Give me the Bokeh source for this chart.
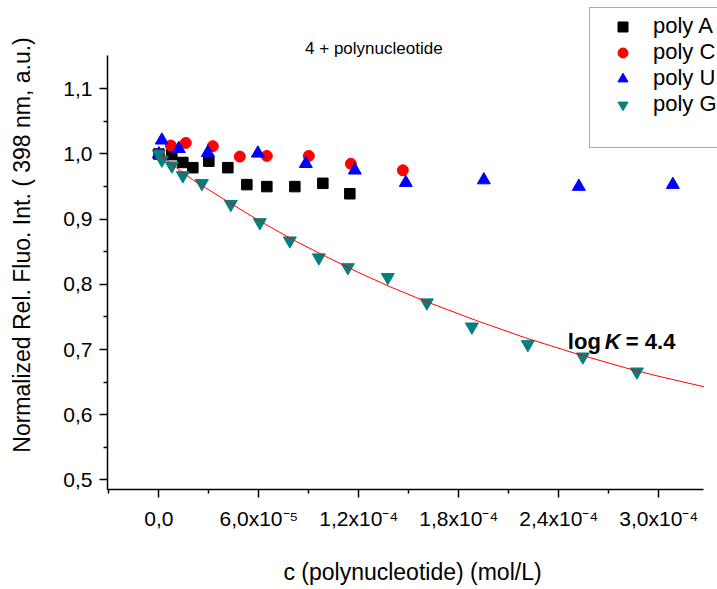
from bokeh.plotting import figure
from bokeh.models import (Range1d, FixedTicker, CustomJSTickFormatter, Legend,
                          LegendItem, Label)
from bokeh.embed import file_html
from bokeh.resources import INLINE

# ---------------- data ----------------
polyA_x = [0.0, 0.78e-5, 1.44e-5, 2.04e-5, 3.0e-5, 4.14e-5, 5.28e-5, 6.48e-5, 8.16e-5, 9.84e-5, 1.146e-4]
polyA_y = [1.000, 0.999, 0.987, 0.979, 0.989, 0.979, 0.953, 0.950, 0.950, 0.955, 0.939]

polyC_x = [0.0, 0.72e-5, 1.62e-5, 3.24e-5, 4.86e-5, 6.48e-5, 9.0e-5, 1.152e-4, 1.464e-4]
polyC_y = [1.000, 1.013, 1.017, 1.012, 0.996, 0.997, 0.997, 0.985, 0.975]

polyU_x = [0.0, 0.18e-5, 1.2e-5, 2.94e-5, 5.94e-5, 8.82e-5, 1.176e-4, 1.482e-4, 1.95e-4, 2.52e-4, 3.084e-4]
polyU_y = [1.000, 1.021, 1.008, 1.002, 1.001, 0.985, 0.975, 0.956, 0.960, 0.950, 0.953]

polyG_x = [0.0, 0.18e-5, 0.78e-5, 1.44e-5, 2.58e-5, 4.32e-5, 6.06e-5, 7.86e-5, 9.6e-5,
           1.134e-4, 1.374e-4, 1.608e-4, 1.878e-4, 2.214e-4, 2.544e-4, 2.868e-4]
polyG_y = [1.000, 0.991, 0.982, 0.967, 0.955, 0.923, 0.895, 0.867, 0.841,
           0.826, 0.811, 0.772, 0.735, 0.708, 0.689, 0.666]

fit_x = [0.0, 1e-5, 2e-5, 4e-5, 6e-5, 8e-5, 1.0e-4, 1.2e-4, 1.4e-4, 1.6e-4,
         1.9e-4, 2.2e-4, 2.5e-4, 2.8e-4, 3.0e-4, 3.27e-4]
fit_y = [1.000, 0.980, 0.961, 0.929, 0.898, 0.869, 0.843, 0.818, 0.795, 0.774,
         0.745, 0.718, 0.694, 0.672, 0.659, 0.643]

x_ticks = [0.0, 6e-5, 1.2e-4, 1.8e-4, 2.4e-4, 3.0e-4]
x_tick_labels = ["0,0", "6,0x10\u207b\u2075", "1,2x10\u207b\u2074", "1,8x10\u207b\u2074",
                 "2,4x10\u207b\u2074", "3,0x10\u207b\u2074"]
x_minor = [-3e-5, 3e-5, 9e-5, 1.5e-4, 2.1e-4, 2.7e-4]
x_axis_span = (-3.08e-5, 3.27e-4)

y_ticks = [0.5, 0.6, 0.7, 0.8, 0.9, 1.0, 1.1]
y_tick_labels = ["0,5", "0,6", "0,7", "0,8", "0,9", "1,0", "1,1"]
y_minor = [0.55, 0.65, 0.75, 0.85, 0.95, 1.05]
y_axis_span = (0.4854, 1.151)

series_labels = ["poly A", "poly C", "poly U", "poly G"]
title_text = "4 + polynucleotide"
x_label = "c (polynucleotide) (mol/L)"
y_label = "Normalized Rel. Fluo. Int. ( 398 nm, a.u.)"

FONT = "Liberation Sans"

# frame spans to the top and right edges of the page so the title and the
# legend (which sit outside the axes) are not clipped; axes use bounds
p = figure(width=717, height=589, output_backend="svg", toolbar_location=None,
           x_range=Range1d(-3.08e-5, 3.352e-4), y_range=Range1d(0.4854, 1.2354),
           min_border_left=107, min_border_right=0, min_border_top=0,
           min_border_bottom=100)
p.outline_line_color = None
p.xgrid.visible = False
p.ygrid.visible = False
p.background_fill_color = "white"
p.border_fill_color = "white"

fmt_code = """
let best = 0;
for (let i = 0; i < tvals.length; i++) {
  if (Math.abs(tvals[i] - tick) < Math.abs(tvals[best] - tick)) best = i;
}
return tlabels[best];
"""

xa = p.xaxis[0]
xa.ticker = FixedTicker(ticks=x_ticks, minor_ticks=x_minor)
xa.formatter = CustomJSTickFormatter(args=dict(tvals=x_ticks, tlabels=x_tick_labels), code=fmt_code)
xa.bounds = x_axis_span
ya = p.yaxis[0]
ya.ticker = FixedTicker(ticks=y_ticks, minor_ticks=y_minor)
ya.formatter = CustomJSTickFormatter(args=dict(tvals=y_ticks, tlabels=y_tick_labels), code=fmt_code)
ya.bounds = y_axis_span

for ax in (xa, ya):
    ax.axis_line_color = "black"
    ax.axis_line_width = 1.5
    ax.major_tick_line_color = "black"
    ax.major_tick_line_width = 1.5
    ax.minor_tick_line_color = "black"
    ax.minor_tick_line_width = 1.5
    ax.major_tick_in = 0
    ax.major_tick_out = 8
    ax.minor_tick_in = 0
    ax.minor_tick_out = 4
    ax.major_label_text_font = FONT
    ax.major_label_text_font_size = "21px"
    ax.major_label_text_color = "black"
    ax.axis_label_text_font = FONT
    ax.axis_label_text_font_size = "23px"
    ax.axis_label_text_font_style = "normal"
    ax.axis_label_text_color = "black"

xa.axis_label = x_label
xa.major_label_standoff = 9
xa.axis_label_standoff = 26
ya.axis_label = y_label
ya.major_label_standoff = 7
ya.axis_label_standoff = 25

rA = p.scatter(polyA_x, polyA_y, marker="square", size=10.5, fill_color="black", line_color="black")
rC = p.scatter(polyC_x, polyC_y, marker="circle", size=11, fill_color="#FF0000", line_color="#FF0000")
rU = p.scatter(polyU_x, polyU_y, marker="triangle", size=13, fill_color="#0000FF", line_color="#0000FF")
rG = p.scatter(polyG_x, polyG_y, marker="inverted_triangle", size=13, fill_color="#008080", line_color="#008080")
p.line(fit_x, fit_y, line_color="#FF0000", line_width=1)

# invisible spacer entry for the legend box height
rDummy = p.scatter([], [], marker="square", size=1, fill_alpha=0, line_alpha=0)

legend = Legend(items=[LegendItem(label=series_labels[0], renderers=[rA]),
                       LegendItem(label=series_labels[1], renderers=[rC]),
                       LegendItem(label=series_labels[2], renderers=[rU]),
                       LegendItem(label=series_labels[3], renderers=[rG]),
                       LegendItem(label=" ", renderers=[rDummy])],
                location=(482, 341), padding=5, spacing=0, margin=0,
                glyph_width=55, glyph_height=25, label_height=25, label_standoff=3,
                label_text_font=FONT, label_text_font_size="22px", label_text_color="black",
                border_line_color="#555555", border_line_width=1.5,
                background_fill_color="white", background_fill_alpha=1)
p.add_layout(legend)

p.add_layout(Label(x=1.29e-4, y=1.162, text=title_text, text_align="center",
                   text_baseline="middle", text_font=FONT, text_font_size="17px",
                   text_color="black"))

ann_x, ann_y = 2.454e-4, 0.7124
for txt, off, style in [("log", 0, "bold"), ("K", 37, "bold italic"), ("= 4.4", 58, "bold")]:
    p.add_layout(Label(x=ann_x, y=ann_y, x_offset=off, text=txt, text_align="left",
                       text_baseline="alphabetic", text_font=FONT, text_font_size="22px",
                       text_font_style=style, text_color="black"))

open("out.html", "w").write(file_html(p, INLINE))
